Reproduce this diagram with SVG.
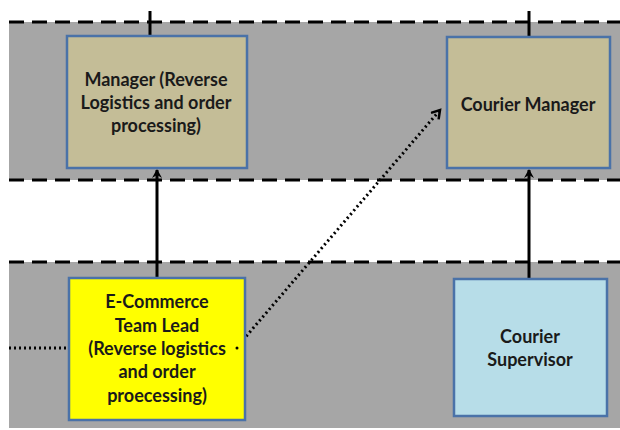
<svg xmlns="http://www.w3.org/2000/svg" width="620" height="430" viewBox="0 0 620 430">
<defs>
<marker id="ah" markerWidth="10" markerHeight="10" refX="8" refY="5" orient="auto" markerUnits="userSpaceOnUse">
<path d="M0,0 L9,5 L0,10 L3,5 Z" fill="#000"/>
</marker>
<marker id="av" markerWidth="12" markerHeight="12" refX="9" refY="6" orient="auto" markerUnits="userSpaceOnUse">
<path d="M1,1 L9,6 L1,11" fill="none" stroke="#000" stroke-width="2.5"/>
</marker>
</defs>
<style>
.band{fill:#a6a6a6}
.dash{stroke:#000;stroke-width:3;stroke-dasharray:15 8;fill:none}
.box{stroke:#4a72a8;stroke-width:2.5}
.t{font-family:Lato,"Open Sans",sans-serif;font-weight:bold;font-size:18px;fill:#1a1a1a;text-anchor:middle}
.solid{stroke:#000;stroke-width:3;fill:none}
.dot{stroke:#000;stroke-width:3;stroke-dasharray:2 3;fill:none}
</style>
<rect class="band" x="9" y="22" width="611" height="158"/>
<rect class="band" x="9" y="262" width="611" height="166"/>
<line class="dash" x1="9" y1="22" x2="620" y2="22"/>
<line class="dash" x1="9" y1="180" x2="620" y2="180"/>
<line class="dash" x1="9" y1="262" x2="620" y2="262"/>
<g id="connectors">
<line class="solid" x1="150" y1="11" x2="150" y2="36"/>
<line class="solid" x1="529" y1="11" x2="529" y2="37"/>
<line class="solid" x1="157" y1="278" x2="157" y2="170" marker-end="url(#ah)"/>
<line class="solid" x1="529" y1="279" x2="529" y2="170" marker-end="url(#ah)"/>
<line class="dot" x1="9" y1="348" x2="69" y2="348"/>
<line class="dot" x1="243" y1="340" x2="440" y2="110" marker-end="url(#av)"/>
</g>
<g id="manager">
<rect class="box" x="67" y="36" width="180" height="132" fill="#c4bd97"/>
<text class="t" x="156" y="86">Manager (Reverse</text>
<text class="t" x="156" y="109">Logistics and order</text>
<text class="t" x="156" y="132">processing)</text>
</g>
<g id="courier-manager">
<rect class="box" x="447" y="37" width="163" height="131" fill="#c4bd97"/>
<text class="t" x="528" y="111">Courier Manager</text>
</g>
<g id="ecommerce-lead">
<rect class="box" x="69" y="278" width="176" height="142" fill="#ffff00"/>
<text class="t" x="157" y="308">E-Commerce</text>
<text class="t" x="157" y="332">Team Lead</text>
<text class="t" x="157" y="355">(Reverse logistics</text>
<text class="t" x="157" y="378">and order</text>
<text class="t" x="157" y="402">proecessing)</text>
<circle cx="237" cy="348" r="1.5" fill="#000"/>
</g>
<g id="courier-supervisor">
<rect class="box" x="454" y="279" width="153" height="137" fill="#b7dde8"/>
<text class="t" x="530" y="343">Courier</text>
<text class="t" x="530" y="366">Supervisor</text>
</g>
</svg>
